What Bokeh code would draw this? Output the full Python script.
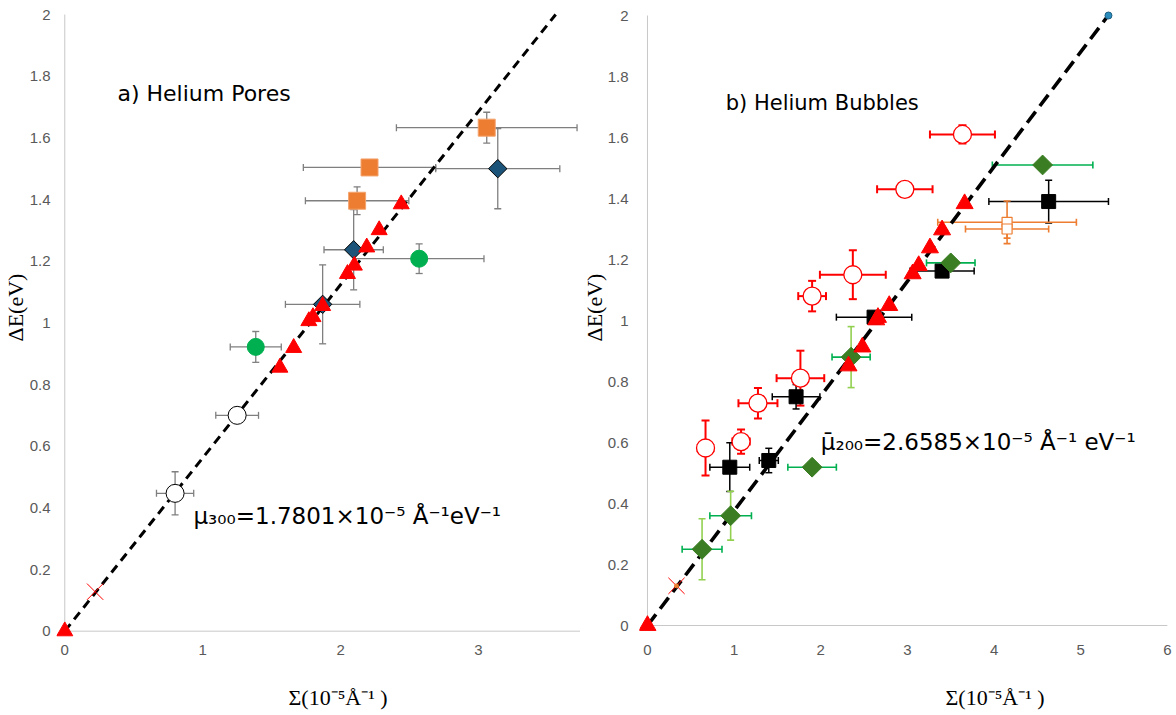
import math
from bokeh.plotting import figure
from bokeh.layouts import row
from bokeh.models import ColumnDataSource, Whisker, TeeHead, Label, FixedTicker, Range1d, Title
from bokeh.embed import file_html
from bokeh.resources import INLINE

# ---------------- Panel a) Helium Pores ----------------
a_tri_x = [0, 1.56, 1.66, 1.77, 1.80, 1.87, 2.05, 2.10, 2.19, 2.28, 2.44]
a_tri_y = [0, 0.855, 0.919, 1.006, 1.019, 1.055, 1.159, 1.186, 1.245, 1.301, 1.385]

a_sq_x = [3.06, 2.21, 2.12]
a_sq_y = [1.633, 1.504, 1.396]
a_sq_xerr = [0.655, 0.48, 0.375]
a_sq_yerr = [0.05, 0.02, 0.045]

a_dia_x = [3.14, 2.095, 1.87]
a_dia_y = [1.50, 1.237, 1.06]
a_dia_xerr = [0.45, 0.215, 0.27]
a_dia_yerr = [0.13, 0.13, 0.128]

a_gc_x = [2.57, 1.385]
a_gc_y = [1.208, 0.922]
a_gc_xerr = [0.47, 0.185]
a_gc_yerr = [0.048, 0.05]

a_oc_x = [1.25, 0.80]
a_oc_y = [0.70, 0.447]
a_oc_xerr = [0.155, 0.135]
a_oc_yerr = [0.02, 0.07]

a_cross_x = [0.22]
a_cross_y = [0.128]

a_fit_x = [0, 3.56]
a_fit_y = [0, 2.0]

a_xticks = [0, 1, 2, 3]
a_xtick_labels = ["0", "1", "2", "3"]

# ---------------- Panel b) Helium Bubbles ----------------
b_tri_x = [0, 2.32, 2.48, 2.64, 2.66, 2.79, 3.06, 3.13, 3.26, 3.40, 3.66]
b_tri_y = [0, 0.851, 0.913, 1.002, 1.010, 1.049, 1.153, 1.180, 1.238, 1.297, 1.383]

b_oc_x = [3.635, 2.97, 2.37, 1.90, 1.765, 1.275, 0.67, 1.08]
b_oc_y = [1.61, 1.43, 1.15, 1.08, 0.811, 0.729, 0.582, 0.603]
b_oc_xerr = [0.375, 0.32, 0.38, 0.16, 0.275, 0.225, 0.09, 0.10]
b_oc_yerr = [0.03, 0.0, 0.08, 0.05, 0.09, 0.05, 0.09, 0.04]

b_sq_x = [4.63, 3.40, 2.615, 1.715, 0.95, 1.40]
b_sq_y = [1.39, 1.162, 1.011, 0.750, 0.519, 0.541]
b_sq_xerr = [0.69, 0.37, 0.435, 0.275, 0.23, 0.11]
b_sq_yerr = [0.07, 0.02, 0.0, 0.04, 0.08, 0.04]

b_dia_x = [4.56, 3.50, 2.35, 1.90, 0.96, 0.63]
b_dia_y = [1.51, 1.189, 0.88, 0.519, 0.36, 0.25]
b_dia_xerr = [0.58, 0.28, 0.22, 0.28, 0.24, 0.23]
b_dia_yerr = [0.0, 0.0, 0.10, 0.0, 0.08, 0.10]

b_osq_x = [4.15, 4.15]
b_osq_y = [1.322, 1.30]
b_osq_xerr = [0.80, 0.48]
b_osq_yerr = [0.07, 0.03]

b_cross_x = [0.335]
b_cross_y = [0.13]

b_dot_x = [5.32]
b_dot_y = [2.0]

b_fit_x = [0, 5.317]
b_fit_y = [0, 2.0]

b_xticks = [0, 1, 2, 3, 4, 5, 6]
b_xtick_labels = ["0", "1", "2", "3", "4", "5", "6"]

yticks = [0, 0.2, 0.4, 0.6, 0.8, 1, 1.2, 1.4, 1.6, 1.8, 2]
ytick_labels = ["0", "0.2", "0.4", "0.6", "0.8", "1", "1.2", "1.4", "1.6", "1.8", "2"]

X_TITLE = "Σ(10⁻⁵Å⁻¹ )"
Y_TITLE = "ΔE(eV)"

RED = "#ff0000"
ORANGE = "#ed7d31"
GREY = "#7f7f7f"
AXIS = "#c8c8c8"


def errbars(p, x, y, xerr, yerr, xcolor, ycolor, lw, cap):
    xs = [(xi, yi, e) for xi, yi, e in zip(x, y, xerr) if e > 0]
    if xs:
        src = ColumnDataSource(dict(base=[t[1] for t in xs],
                                    lower=[t[0] - t[2] for t in xs],
                                    upper=[t[0] + t[2] for t in xs]))
        p.add_layout(Whisker(source=src, base="base", lower="lower", upper="upper",
                             dimension="width", line_color=xcolor, line_width=lw,
                             upper_head=TeeHead(size=cap, line_color=xcolor, line_width=lw),
                             lower_head=TeeHead(size=cap, line_color=xcolor, line_width=lw)))
    ys = [(xi, yi, e) for xi, yi, e in zip(x, y, yerr) if e > 0]
    if ys:
        src = ColumnDataSource(dict(base=[t[0] for t in ys],
                                    lower=[t[1] - t[2] for t in ys],
                                    upper=[t[1] + t[2] for t in ys]))
        p.add_layout(Whisker(source=src, base="base", lower="lower", upper="upper",
                             dimension="height", line_color=ycolor, line_width=lw,
                             upper_head=TeeHead(size=cap, line_color=ycolor, line_width=lw),
                             lower_head=TeeHead(size=cap, line_color=ycolor, line_width=lw)))


def style(p, xticks, xlabels, xend, xstandoff, ystandoff, ytitle_standoff, xtitle_offset):
    p.xgrid.visible = False
    p.ygrid.visible = False
    p.outline_line_color = None
    for ax in (p.xaxis[0], p.yaxis[0]):
        ax.axis_line_color = None
        ax.major_tick_line_color = None
        ax.minor_tick_line_color = None
        ax.major_tick_out = 0
        ax.major_tick_in = 0
        ax.minor_tick_out = 0
        ax.minor_tick_in = 0
        ax.major_label_text_color = "#595959"
        ax.major_label_text_font = "Liberation Sans"
        ax.major_label_text_font_size = "15px"
        ax.axis_label_text_font = "Liberation Serif"
        ax.axis_label_text_font_style = "normal"
        ax.axis_label_text_font_size = "22px"
        ax.axis_label_text_color = "black"
    p.xaxis[0].ticker = FixedTicker(ticks=xticks)
    p.xaxis[0].major_label_overrides = {t: l for t, l in zip(xticks, xlabels)}
    p.yaxis[0].ticker = FixedTicker(ticks=yticks)
    p.yaxis[0].major_label_overrides = {t: l for t, l in zip(yticks, ytick_labels)}
    p.xaxis[0].major_label_standoff = xstandoff
    p.yaxis[0].major_label_standoff = ystandoff
    # blank spacer below the tick labels so the x title sits lower
    p.xaxis[0].axis_label = " "
    p.xaxis[0].axis_label_standoff = -3
    p.add_layout(Title(text=X_TITLE, align="left", offset=xtitle_offset, standoff=0,
                       text_font="Liberation Serif", text_font_size="22px",
                       text_font_style="normal", text_color="black"), "below")
    p.add_layout(Title(text=Y_TITLE, align="left", offset=298, standoff=ytitle_standoff,
                       text_font="Liberation Serif", text_font_size="22px",
                       text_font_style="normal", text_color="black"), "left")
    # axis lines drawn through the data origin
    p.segment(x0=[xticks[0]], y0=[yticks[0]], x1=[xend], y1=[yticks[0]], line_color=AXIS, line_width=1)
    p.segment(x0=[xticks[0]], y0=[yticks[0]], x1=[xticks[0]], y1=[yticks[-1]], line_color=AXIS, line_width=1)


# ---------------- Figure a ----------------
a_xend = 3.74
pa = figure(width=580, height=715, output_backend="svg", toolbar_location=None,
            x_range=Range1d(-0.06, a_xend), y_range=Range1d(-0.027, 2.0195),
            min_border_left=56, min_border_right=0, min_border_top=8, min_border_bottom=76,
            background_fill_color="white", border_fill_color="white")
style(pa, a_xticks, a_xtick_labels, a_xend, 5, 6, -3, 232)

pa.line(a_fit_x, a_fit_y, line_color="black", line_width=3, line_dash="9 6")
errbars(pa, a_sq_x, a_sq_y, a_sq_xerr, a_sq_yerr, GREY, GREY, 1.3, 7)
errbars(pa, a_dia_x, a_dia_y, a_dia_xerr, a_dia_yerr, GREY, GREY, 1.3, 7)
errbars(pa, a_gc_x, a_gc_y, a_gc_xerr, a_gc_yerr, GREY, GREY, 1.3, 7)
errbars(pa, a_oc_x, a_oc_y, a_oc_xerr, a_oc_yerr, GREY, GREY, 1.3, 7)
pa.scatter(a_oc_x, a_oc_y, marker="circle", size=18, fill_color="white", line_color="black", line_width=1)
pa.scatter(a_gc_x, a_gc_y, marker="circle", size=17, fill_color="#00b050", line_color="#00b050")
pa.scatter(a_sq_x, a_sq_y, marker="square", size=17, fill_color=ORANGE, line_color="#f4a36c", line_width=1)
pa.scatter(a_dia_x, a_dia_y, marker="square", angle=math.pi / 4, size=13, fill_color="#1b5478",
           line_color="black", line_width=1)
pa.scatter(a_tri_x, a_tri_y, marker="triangle", size=16, fill_color=RED, line_color=RED)
pa.scatter(a_cross_x, a_cross_y, marker="x", size=23, line_color=RED, line_width=1)

pa.add_layout(Label(x=0.382, y=1.745, text="a) Helium Pores", text_font="DejaVu Sans",
                    text_font_size="22px", text_baseline="middle", text_color="black"))
pa.add_layout(Label(x=0.933, y=0.372, text="μ₃₀₀=1.7801×10⁻⁵ Å⁻¹eV⁻¹", text_font="DejaVu Sans",
                    text_font_size="23px", text_baseline="middle", text_color="black"))

# ---------------- Figure b ----------------
b_xend = 6
pb = figure(width=596, height=715, output_backend="svg", toolbar_location=None,
            x_range=Range1d(-0.092, 6.036), y_range=Range1d(-0.0459, 2.023),
            min_border_left=59, min_border_right=6, min_border_top=8, min_border_bottom=76,
            background_fill_color="white", border_fill_color="white")
style(pb, b_xticks, b_xtick_labels, b_xend, 5, 11, -5, 306)

pb.line(b_fit_x, b_fit_y, line_color="black", line_width=3.6, line_dash="14 7")
errbars(pb, b_oc_x, b_oc_y, b_oc_xerr, b_oc_yerr, RED, RED, 2, 8)
errbars(pb, b_sq_x, b_sq_y, b_sq_xerr, b_sq_yerr, "black", "black", 1.5, 7)
errbars(pb, b_dia_x, b_dia_y, b_dia_xerr, b_dia_yerr, "#00b050", "#92d050", 1.6, 7)
errbars(pb, b_osq_x, b_osq_y, b_osq_xerr, b_osq_yerr, ORANGE, ORANGE, 1.6, 7)
pb.scatter(b_oc_x, b_oc_y, marker="circle", size=18, fill_color="white", line_color=RED, line_width=1.3)
pb.scatter(b_osq_x, b_osq_y, marker="square", size=10, fill_color="white", line_color=ORANGE, line_width=1.2)
pb.scatter(b_sq_x, b_sq_y, marker="square", size=14, fill_color="black", line_color="black")
pb.scatter(b_dia_x, b_dia_y, marker="square", angle=math.pi / 4, size=14, fill_color="#3a7d22",
           line_color="#3a7d22")
pb.scatter(b_tri_x, b_tri_y, marker="triangle", size=17, fill_color=RED, line_color=RED)
pb.scatter(b_cross_x, b_cross_y, marker="x", size=23, line_color=RED, line_width=1)
pb.scatter(b_cross_x, b_cross_y, marker="circle", size=4, fill_color=ORANGE, line_color=ORANGE)
pb.scatter(b_dot_x, b_dot_y, marker="circle", size=7, fill_color="#2b8cbe", line_color="#1f5f80")

pb.add_layout(Label(x=0.903, y=1.713, text="b) Helium Bubbles", text_font="DejaVu Sans",
                    text_font_size="21px", text_baseline="middle", text_color="black"))
pb.add_layout(Label(x=2.0, y=0.602, text="μ̄₂₀₀=2.6585×10⁻⁵ Å⁻¹ eV⁻¹", text_font="DejaVu Sans",
                    text_font_size="23px", text_baseline="middle", text_color="black"))

layout = row(pa, pb)
open("out.html", "w").write(file_html(layout, INLINE))
